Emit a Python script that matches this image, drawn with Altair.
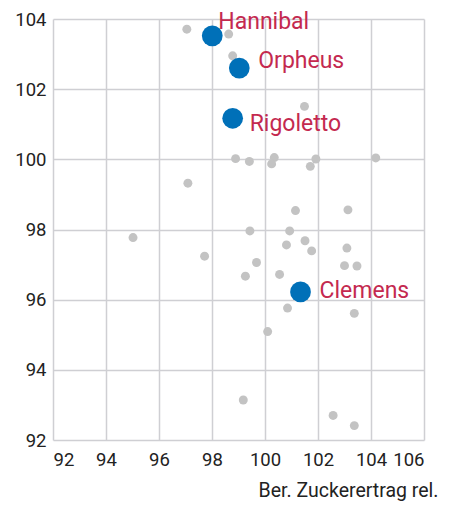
import altair as alt
import pandas as pd

# Gray points (other varieties)
gx = [97.05, 98.63, 98.78, 101.49, 97.09, 95.02, 98.89, 99.41, 100.35, 100.25,
      101.92, 101.71, 104.18, 101.15, 103.13, 99.43, 100.93, 101.51, 100.81, 101.76,
      103.09, 103.0, 103.47, 99.68, 99.26, 100.55, 100.85, 103.37, 100.10, 99.18,
      102.57, 103.37, 97.72]
gy = [103.71, 103.57, 102.95, 101.51, 99.32, 97.77, 100.02, 99.94, 100.05, 99.87,
      100.01, 99.80, 100.04, 98.54, 98.56, 97.96, 97.96, 97.68, 97.56, 97.39,
      97.47, 96.97, 96.96, 97.06, 96.67, 96.72, 95.76, 95.61, 95.09, 93.14,
      92.70, 92.41, 97.24]

# Highlighted varieties
names = ["Hannibal", "Orpheus", "Rigoletto", "Clemens"]
hx = [98.01, 99.03, 98.78, 101.34]
hy = [103.52, 102.60, 101.17, 96.22]

gray = pd.DataFrame({"x": gx, "y": gy})
hl = pd.DataFrame({"name": names, "x": hx, "y": hy})

FONT = "Roboto"

xs = alt.Scale(domain=[92, 106], nice=False, zero=False)
ys = alt.Scale(domain=[92, 104], nice=False, zero=False)

xenc = alt.X("x:Q", scale=xs, axis=alt.Axis(
    values=[92, 94, 96, 98, 100, 102, 104, 106],
    title="Ber. Zuckerertrag rel.", titleAnchor="end", titleAlign="right",
    titleX=385, titleY=56, titleBaseline="alphabetic",
    titleFontSize=19.5, titleFontWeight="normal", titleColor="#222222", titleFont=FONT,
    labelFontSize=18.5, labelColor="#222222", labelFont=FONT, labelPadding=10,
    ticks=False, domain=False, grid=True, gridColor="#cfcfd3", gridWidth=1.5))
yenc = alt.Y("y:Q", scale=ys, axis=alt.Axis(
    values=list(range(92, 105)),
    labelExpr="datum.value % 2 == 0 ? datum.label : ''",
    title=None, labelFontSize=18.5, labelColor="#222222", labelFont=FONT, labelPadding=7,
    ticks=False, domain=False, grid=True, gridColor="#cfcfd3", gridWidth=1.5))

g = alt.Chart(gray).mark_circle(size=80, color="#c3c3c3", opacity=1).encode(x=xenc, y=yenc)
b = alt.Chart(hl).mark_circle(size=430, color="#0070b8", opacity=1).encode(x="x:Q", y="y:Q")

offsets = {"Hannibal": (6, -14), "Orpheus": (19, -7), "Rigoletto": (17, 6), "Clemens": (19, -1)}
texts = []
for n in names:
    dx, dy = offsets[n]
    texts.append(
        alt.Chart(hl).transform_filter(alt.datum.name == n)
        .mark_text(align="left", baseline="middle", dx=dx, dy=dy, fontSize=23,
                   font=FONT, color="#c4294f")
        .encode(x="x:Q", y="y:Q", text="name:N")
    )

chart = alt.layer(g, b, *texts).properties(
    width=371, height=421,
    autosize=alt.AutoSizeParams(type="none"),
    padding={"left": 45, "top": 11, "right": 28, "bottom": 61},
).configure_view(stroke=None)

chart.save("out.html", embed_options={"renderer": "svg", "actions": False})
